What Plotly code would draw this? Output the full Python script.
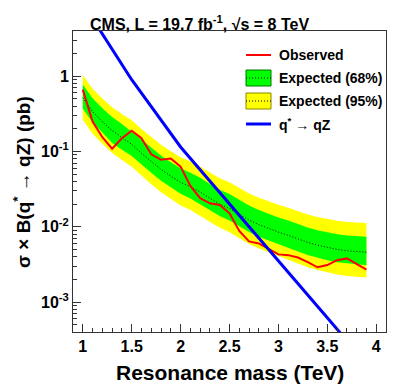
import plotly.graph_objects as go

# ---------------- data ----------------
mass = [1.0, 1.1, 1.2, 1.3, 1.4, 1.5, 1.6, 1.7, 1.8, 1.9,
        2.0, 2.1, 2.2, 2.3, 2.4, 2.5, 2.6, 2.7, 2.8, 2.9,
        3.0, 3.1, 3.2, 3.3, 3.4, 3.5, 3.6, 3.7, 3.8, 3.9]

observed = [0.665, 0.25, 0.155, 0.109, 0.15, 0.189, 0.15, 0.092, 0.078, 0.081,
            0.063, 0.035, 0.024, 0.0205, 0.0195, 0.0151, 0.0088, 0.0064, 0.0060, 0.0051,
            0.0043, 0.0042, 0.0039, 0.0034, 0.0029, 0.0031, 0.0036, 0.0038, 0.0032, 0.0027]

expected = [0.52, 0.34, 0.25, 0.19, 0.153, 0.125, 0.095, 0.074, 0.058, 0.047,
            0.039, 0.034, 0.029, 0.024, 0.020, 0.0175, 0.0145, 0.0123, 0.0107, 0.0095,
            0.0085, 0.0077, 0.0069, 0.0062, 0.0057, 0.0053, 0.0050, 0.0048, 0.0047, 0.0046]

exp68_up = [0.78, 0.511, 0.377, 0.287, 0.232, 0.185, 0.1445, 0.1128, 0.0886, 0.072,
            0.0598, 0.0523, 0.0447, 0.0371, 0.031, 0.0272, 0.02255, 0.0192, 0.0167, 0.01487,
            0.01334, 0.0121, 0.01087, 0.00979, 0.00902, 0.0084, 0.00795, 0.00765, 0.0075, 0.00736]

exp68_dn = [0.374, 0.244, 0.179, 0.13, 0.106, 0.087, 0.0674, 0.0524, 0.041, 0.0331,
            0.0274, 0.0238, 0.0203, 0.0167, 0.0139, 0.01215, 0.01004, 0.0085, 0.00737, 0.00653,
            0.00583, 0.00527, 0.00471, 0.00422, 0.00387, 0.00359, 0.00338, 0.00323, 0.00316, 0.00308]

exp95_up = [1.04, 0.685, 0.508, 0.389, 0.315, 0.260, 0.199, 0.156, 0.123, 0.1006,
            0.084, 0.0738, 0.0634, 0.0528, 0.0443, 0.0391, 0.0326, 0.0278, 0.0244, 0.0218,
            0.01964, 0.0179, 0.01615, 0.01461, 0.01352, 0.01266, 0.01202, 0.01161, 0.01144, 0.01127]

exp95_dn = [0.265, 0.173, 0.127, 0.096, 0.077, 0.0626, 0.0475, 0.0369, 0.0288, 0.0233,
            0.0192, 0.0167, 0.0142, 0.0117, 0.0097, 0.00847, 0.00699, 0.00592, 0.00513, 0.00453,
            0.00404, 0.00365, 0.00326, 0.00291, 0.00267, 0.00248, 0.00233, 0.00222, 0.00217, 0.00212]

theory_mass = [1.0, 1.5, 2.0, 2.5, 3.0, 3.5, 4.0]
theory_xsec = [9.3, 0.90, 0.115, 0.0204, 0.0036, 0.00062, 0.000107]

x_ticks = [1, 1.5, 2, 2.5, 3, 3.5, 4]
x_ticktext = ["1", "1.5", "2", "2.5", "3", "3.5", "4"]
y_ticks = [1e-3, 1e-2, 1e-1, 1]
y_ticktext = ["10<sup>-3</sup>", "10<sup>-2</sup>", "10<sup>-1</sup>", "1"]

legend_labels = ["Observed", "Expected (68%)", "Expected (95%)", "q<sup>*</sup> \u2192 qZ"]

# ---------------- figure ----------------
FONT = "Liberation Sans, Arial, Helvetica, sans-serif"
fig = go.Figure()

fig.add_trace(go.Scatter(
    x=mass + mass[::-1], y=exp95_up + exp95_dn[::-1],
    fill="toself", fillcolor="#FFFF00", line=dict(width=0), mode="lines",
    hoverinfo="skip"))
fig.add_trace(go.Scatter(
    x=mass + mass[::-1], y=exp68_up + exp68_dn[::-1],
    fill="toself", fillcolor="#00FF00", line=dict(width=0), mode="lines",
    hoverinfo="skip"))
fig.add_trace(go.Scatter(
    x=mass, y=expected, mode="lines",
    line=dict(color="black", width=1, dash="1px,2px")))
fig.add_trace(go.Scatter(
    x=mass, y=observed, mode="lines",
    line=dict(color="#FF0000", width=2)))
fig.add_trace(go.Scatter(
    x=theory_mass, y=theory_xsec, mode="lines",
    line=dict(color="#0000FF", width=3)))

W, H = 407, 391
L, R, T, B = 73, 21, 31, 59
pw, ph = W - L - R, H - T - B


def px2paper(px, py):
    return (px - L) / pw, (H - B - py) / ph


shapes = []
annotations = []

# legend entries (custom, ROOT-style)
lx0, lx1 = 246, 271
tx = 277
rows = [55, 78, 101, 124]
x0, y0 = px2paper(lx0, rows[0]); x1, _ = px2paper(lx1, rows[0])
shapes.append(dict(type="line", xref="paper", yref="paper", x0=x0, x1=x1, y0=y0, y1=y0,
                   line=dict(color="#FF0000", width=2)))
for row, fc, bc in [(rows[1], "#00FF00", "#007700"), (rows[2], "#FFFF00", "#888800")]:
    bx0, by0 = px2paper(lx0, row - 8)
    bx1, by1 = px2paper(lx1, row + 8)
    shapes.append(dict(type="rect", xref="paper", yref="paper", x0=bx0, x1=bx1, y0=by1, y1=by0,
                       fillcolor=fc, line=dict(color=bc, width=1)))
    _, ym = px2paper(lx0, row)
    shapes.append(dict(type="line", xref="paper", yref="paper", x0=bx0, x1=bx1, y0=ym, y1=ym,
                       line=dict(color="black", width=1, dash="1px,2px")))
x0, y0 = px2paper(lx0, rows[3]); x1, _ = px2paper(lx1, rows[3])
shapes.append(dict(type="line", xref="paper", yref="paper", x0=x0, x1=x1, y0=y0, y1=y0,
                   line=dict(color="#0000FF", width=3)))

for row, lab in zip(rows, legend_labels):
    ax, ay = px2paper(tx, row)
    annotations.append(dict(text=lab, xref="paper", yref="paper", x=ax, y=ay,
                            xanchor="left", yanchor="middle", showarrow=False,
                            font=dict(family=FONT, size=14, color="black", weight="bold")))

ax, ay = px2paper(199, 23)
annotations.append(dict(text="CMS, L = 19.7 fb<sup>-1</sup>, \u221As = 8 TeV",
                        xref="paper", yref="paper", x=ax, y=ay, xanchor="center", yanchor="middle",
                        showarrow=False, font=dict(family=FONT, size=16, color="black", weight="bold")))
ax, ay = px2paper(229.5, 372)
annotations.append(dict(text="Resonance mass (TeV)", xref="paper", yref="paper", x=ax, y=ay,
                        xanchor="center", yanchor="middle", showarrow=False,
                        font=dict(family=FONT, size=21, color="black", weight="bold")))
ax, ay = px2paper(22, 182)
annotations.append(dict(text="\u03C3 \u00D7 B(q<sup>*</sup> \u2192 qZ) (pb)", xref="paper", yref="paper",
                        x=ax, y=ay, xanchor="center", yanchor="middle", textangle=-90,
                        showarrow=False,
                        font=dict(family=FONT, size=19, color="black", weight="bold")))

fig.update_layout(
    width=W, height=H,
    margin=dict(l=L, r=R, t=T, b=B, pad=0),
    paper_bgcolor="white", plot_bgcolor="white",
    showlegend=False,
    shapes=shapes, annotations=annotations,
    font=dict(family=FONT, color="black"),
)

fig.update_xaxes(
    range=[0.9, 4.1], tickvals=x_ticks, ticktext=x_ticktext,
    ticks="inside", ticklen=8, tickcolor="#333", tickwidth=1,
    showline=True, linecolor="#333", linewidth=1, mirror=True,
    showgrid=False, zeroline=False, automargin=False,
    tickfont=dict(family=FONT, size=16, color="black", weight="bold"),
    minor=dict(ticks="inside", ticklen=4, dtick=0.1, tick0=0, tickcolor="#333", showgrid=False),
)
fig.update_yaxes(
    type="log", range=[-3.398, 0.602], tickvals=y_ticks, ticktext=y_ticktext,
    ticks="inside", ticklen=8, tickcolor="#333", tickwidth=1,
    showline=True, linecolor="#333", linewidth=1, mirror=True,
    showgrid=False, zeroline=False, automargin=False,
    tickfont=dict(family=FONT, size=16, color="black", weight="bold"),
    minor=dict(ticks="inside", ticklen=4, tickcolor="#333", showgrid=False, dtick="D1"),
)

fig.write_html("out.html", config={"displayModeBar": False},
               post_script="document.body.style.margin='0';document.body.style.overflow='hidden';")
